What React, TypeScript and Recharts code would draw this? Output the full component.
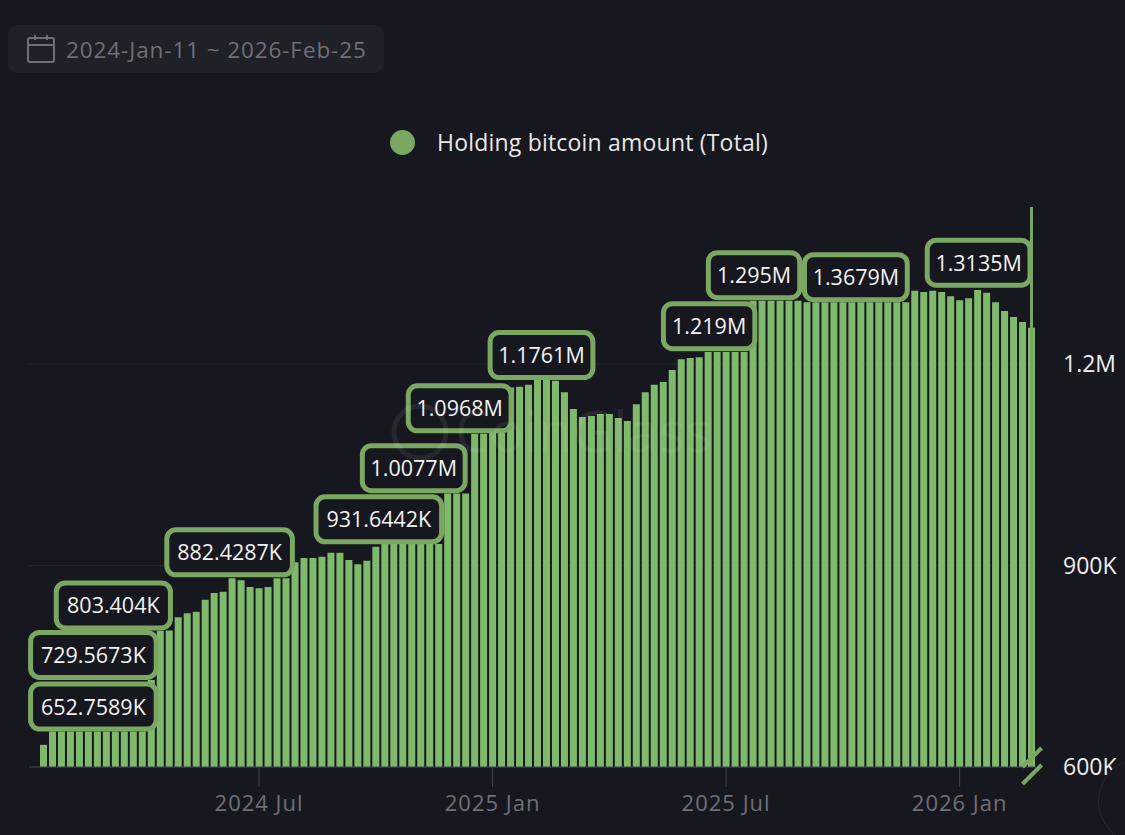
import { BarChart, Bar, XAxis, YAxis, CartesianGrid, ReferenceDot, ReferenceLine } from "recharts";

// weekly holdings in thousands of BTC
const holdings = [
  633, 652.8, 652.8, 652.8, 652.8, 652.8, 652.8, 652.8, 652.8, 652.8,
  652.8, 652.8, 729.6, 803, 803.4, 823, 829, 831, 849, 859,
  861, 881, 878, 868, 866, 868, 881, 881, 905, 911,
  911, 913, 919, 919, 908, 902, 907, 928, 932, 932,
  932, 932, 932, 932, 932, 1007, 1007, 1007, 1096, 1096,
  1130, 1150, 1165, 1166, 1169, 1176, 1176, 1175, 1158, 1133,
  1121, 1122.6, 1125.5, 1125.5, 1119.6, 1115, 1140, 1158, 1169, 1173,
  1191, 1207, 1209, 1210, 1218, 1218, 1218, 1218, 1218, 1294,
  1294, 1294, 1294, 1294, 1294, 1292, 1292, 1292, 1292, 1292,
  1292, 1292, 1292, 1292, 1292, 1292, 1292, 1309, 1307, 1309,
  1307, 1301, 1295, 1298, 1310, 1306, 1292, 1279, 1270, 1262.5,
  1254,
];

const weeks = holdings.map((_, i) => i);
const chartData = weeks.map((week) => ({ week, holdings: holdings[week] }));

const xTickWeeks = [24, 50, 76, 102];
const xTickLabels = ["2024 Jul", "2025 Jan", "2025 Jul", "2026 Jan"];
const yTicks = [600, 900, 1200];
const yTickLabels = ["600K", "900K", "1.2M"];

const calloutTexts = [
  "652.7589K", "729.5673K", "803.404K", "882.4287K", "931.6442K", "1.0077M",
  "1.0968M", "1.1761M", "1.219M", "1.295M", "1.3679M", "1.3135M",
];
const calloutWeeks = [6, 6, 8, 21, 37, 41, 46, 55, 74, 79, 90, 104];
const calloutValues = [652.8, 729.6, 803.4, 882.4, 931.6, 1007.7, 1096.8, 1176.1, 1219, 1295, 1292, 1313.5];
const calloutNudge = [-4, -4, -2, -2.5, 3, 2, 3, 4, 1, 1, 4, 1];

const BG = "#17171f";
const GREEN = "#7fb96b";
const MUTED = "#7aa862";
const FONT = '"Open Sans", "Noto Sans", sans-serif';

function Callout({ cx, cy, text, nudge }: any) {
  const w = 28 + 11.4 * text.length;
  const h = 50;
  const left = cx + nudge - w / 2;
  return (
    <g>
      <rect x={left + 2.5} y={cy - h + 2.5} width={w - 5} height={h - 5} rx={9} fill={BG} stroke={MUTED} strokeWidth={5} />
      <text x={left + w / 2} y={cy - h / 2 + 8} textAnchor="middle" fill="#f2f2f2" fontSize={21.5} fontFamily={FONT}>
        {text}
      </text>
    </g>
  );
}

function AxisBreak({ cx, cy }: any) {
  return (
    <g stroke={MUTED} strokeWidth={4}>
      <line x1={cx - 9} y1={cy} x2={cx + 10} y2={cy - 19} />
      <line x1={cx - 9} y1={cy + 17} x2={cx + 10} y2={cy - 2} />
    </g>
  );
}

export default function App() {
  return (
    <div style={{ position: "fixed", left: 0, top: 0, width: 1125, height: 835, background: BG, overflow: "hidden" }}>
      <div
        style={{
          position: "absolute", left: 8, top: 25, width: 376, height: 48, borderRadius: 10, background: "#1f2028",
          display: "flex", alignItems: "center", fontFamily: FONT, fontSize: 22.5, letterSpacing: 0.9, color: "#6f6f78",
        }}
      >
        <svg width={30} height={30} viewBox="0 0 30 30" style={{ marginLeft: 18, marginRight: 10 }} fill="none" stroke="#6f6f78" strokeWidth={2}>
          <rect x={2} y={4} width={26} height={24} rx={2} />
          <line x1={2} y1={11} x2={28} y2={11} />
          <line x1={9} y1={1} x2={9} y2={6} />
          <line x1={21} y1={1} x2={21} y2={6} />
        </svg>
        2024-Jan-11 ~ 2026-Feb-25
      </div>

      <div
        style={{
          position: "absolute", left: 390, top: 126, display: "flex", alignItems: "center",
          fontFamily: FONT, fontSize: 23, letterSpacing: 0.2, color: "#e8e8e8",
        }}
      >
        <span style={{ width: 25, height: 25, borderRadius: "50%", background: MUTED, marginRight: 22 }} />
        Holding bitcoin amount (Total)
      </div>

      <BarChart
        width={1125}
        height={835}
        data={chartData}
        margin={{ top: 207, right: 0, bottom: 0, left: 29 }}
        barCategoryGap={1}
      >
        <CartesianGrid vertical={false} syncWithTicks stroke="#242436" />
        <XAxis
          dataKey="week"
          type="category"
          ticks={xTickWeeks}
          interval={0}
          padding={{ left: 10, right: 0 }}
          tickFormatter={(w: number) => xTickLabels[xTickWeeks.indexOf(w)]}
          stroke="#44444e"
          tickSize={20}
          tickMargin={8}
          tick={{ fill: "#6f6f78", fontSize: 22, letterSpacing: 1, fontFamily: FONT }}
          height={68}
        />
        <YAxis
          orientation="right"
          domain={[600, 1433.7]}
          ticks={yTicks}
          tickFormatter={(v: number) => yTickLabels[yTicks.indexOf(v)]}
          axisLine={false}
          tickLine={false}
          tickMargin={21}
          tick={{ fill: "#eeeeee", fontSize: 23, fontFamily: FONT }}
          width={89}
        />
        <Bar dataKey="holdings" fill={GREEN} isAnimationActive={false} />
        <ReferenceLine x={weeks[weeks.length - 1]} stroke={MUTED} strokeWidth={3} />
        <ReferenceDot
          x={weeks[weeks.length - 1]}
          y={600}
          ifOverflow="visible"
          shape={(p: any) => <AxisBreak cx={p.cx} cy={p.cy} />}
        />
        {calloutTexts.map((text, i) => (
          <ReferenceDot
            key={text}
            x={calloutWeeks[i]}
            y={calloutValues[i]}
            ifOverflow="visible"
            shape={(p: any) => <Callout cx={p.cx} cy={p.cy} text={text} nudge={calloutNudge[i]} />}
          />
        ))}
      </BarChart>

      {/* faint site watermark over the bars */}
      <svg width={1125} height={835} style={{ position: "absolute", left: 0, top: 0, pointerEvents: "none" }}>
        <circle cx={420} cy={432} r={26} fill="none" stroke="#ffffff" strokeOpacity={0.07} strokeWidth={5} />
        <text x={455} y={452} fill="#ffffff" fillOpacity={0.07} fontSize={56} fontFamily={FONT}>
          CoinGlass
        </text>
      </svg>

      {/* round button that sits over the corner of the chart */}
      <div
        style={{
          position: "absolute", left: 1098, top: 758, width: 84, height: 84, borderRadius: "50%",
          background: BG, border: "1px solid #2a2a33",
        }}
      />
    </div>
  );
}
